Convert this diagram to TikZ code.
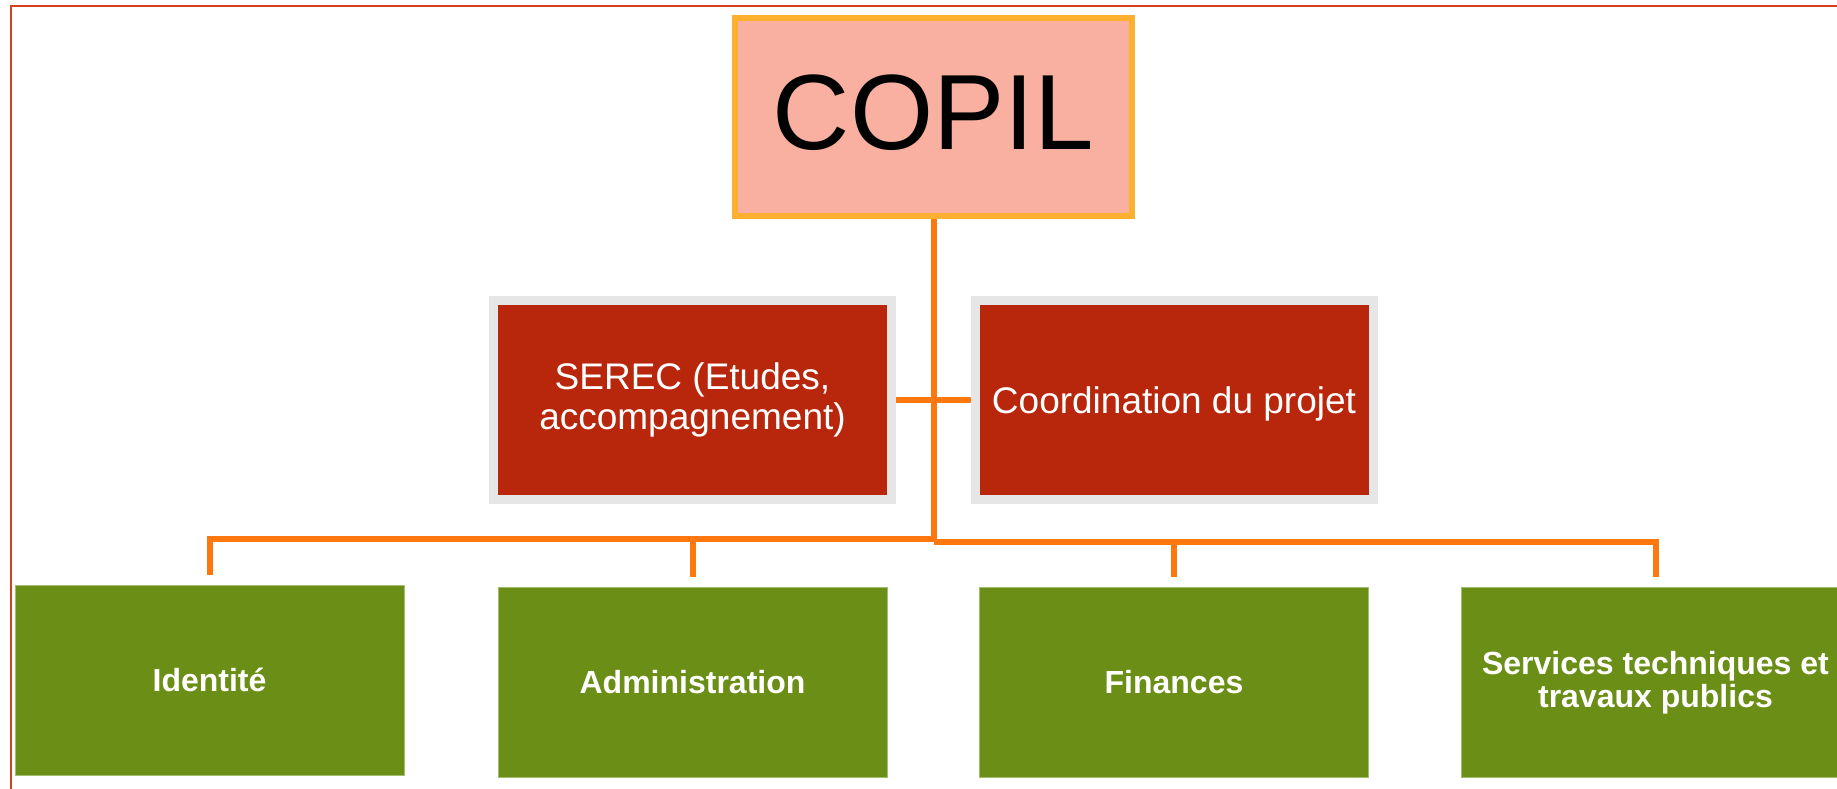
\documentclass[tikz,border=0pt]{standalone}
\usepackage{fontspec}
\setmainfont{Liberation Sans}
\definecolor{framec}{RGB}{210,66,30}
\definecolor{copilfill}{RGB}{250,176,160}
\definecolor{copilline}{RGB}{252,176,48}
\definecolor{redbox}{RGB}{184,39,11}
\definecolor{graybox}{RGB}{230,230,230}
\definecolor{greenbox}{RGB}{106,142,22}
\definecolor{greenedge}{RGB}{160,190,110}
\definecolor{connc}{RGB}{255,120,15}
\tikzset{
  copilbox/.style={draw=copilline, fill=copilfill, line width=3pt,
    minimum width=198.5pt, minimum height=99pt, inner sep=0pt,
    font=\fontsize{53.5}{60}\selectfont, text depth=5pt},
  redtile/.style={draw=graybox, fill=redbox, line width=4.5pt,
    minimum width=199pt, minimum height=99.5pt, inner sep=0pt,
    text=white, align=center, font=\fontsize{18.5}{20}\selectfont},
  greentile/.style={draw=greenedge, fill=greenbox, line width=0.5pt,
    minimum width=194.5pt, minimum height=95pt, inner sep=0pt,
    text=white, align=center, font=\fontsize{16}{16.5}\selectfont\bfseries},
  conn/.style={draw=connc, line width=3pt}
}
\begin{document}
\begin{tikzpicture}[x=0.5pt,y=-0.5pt]
\useasboundingbox (0,0) rectangle (1837,788);
\clip (0,0) rectangle (1837,788);
\fill[white] (0,0) rectangle (1837,788);
\draw[framec, line width=1pt] (10.5,900) -- (10.5,6) -- (1900,6);

\node[copilbox] (copil) at (933.5,117) {COPIL};
\node[redtile] (serec) at (692.5,400) {SEREC (Etudes,\\accompagnement)};
\node[redtile, text depth=0pt] (coord) at (1174,400) {Coordination du projet};

\node[greentile] (ident) at (209.5,680) {Identité};
\node[greentile] (admin) at (692.5,682.5) {Administration};
\node[greentile] (fin) at (1174,682.5) {Finances};
\node[greentile] (serv) at (1655.5,682.5) {Services techniques et\\travaux publics};

\coordinate (hubL) at (933.5,539);
\coordinate (hubR) at (933.5,541.5);

\draw[conn] (serec.east) -- (coord.west);
\draw[conn] (copil.south) -- (hubR);
\draw[conn] (hubL) -| ([yshift=5pt]ident.north);
\draw[conn] (hubL) -| ([yshift=5pt]admin.north);
\draw[conn] (hubR) -| ([yshift=5pt]fin.north);
\draw[conn] (hubR) -| ([yshift=5pt]serv.north);
\end{tikzpicture}
\end{document}
